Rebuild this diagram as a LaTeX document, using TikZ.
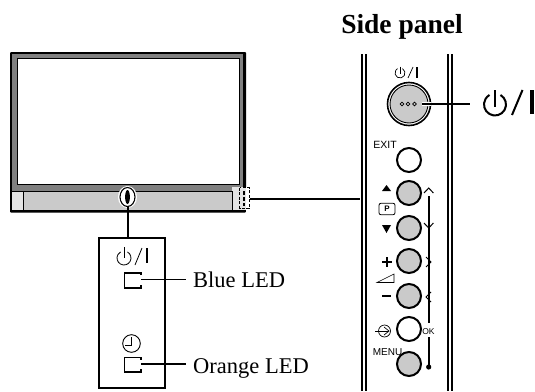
\documentclass[tikz,border=0pt]{standalone}
\usepackage{fontspec}
\setmainfont{Liberation Serif}
\newfontfamily\lab{Liberation Sans}
\definecolor{fr}{HTML}{808080}
\definecolor{bt}{HTML}{CACACA}
\definecolor{lt}{HTML}{E4E4E4}
\tikzset{x=1pt,y=-1pt,
 btn/.style={circle,draw=black,line width=2pt,fill=bt,minimum size=24pt,inner sep=0pt},
 wbtn/.style={btn,fill=white},
 serif/.style={inner sep=0pt,font=\fontsize{22.5}{24}\selectfont,anchor=base west},
 small/.style={inner sep=0pt,font=\lab\fontsize{10.5}{12}\selectfont},
 ledl/.style={line width=1.6pt},
 leader/.style={line width=1.2pt},
}
\begin{document}
\begin{tikzpicture}
\useasboundingbox (0,0) rectangle (535,391);
% TV
\fill[black,rounded corners=1pt] (10,52) rectangle (246,212.5);
\fill[fr] (12,53.5) rectangle (243,191);
\fill[white] (17,58) rectangle (239,184);
\draw[line width=1pt] (17,58) rectangle (239,184);
\fill[bt] (12,190.5) rectangle (244,210);
\fill[lt] (12,190.5) rectangle (23,210);
\fill[lt] (232,187) rectangle (250,210);
\fill[white] (246,187) rectangle (250,212);
\draw[line width=.6pt] (23,191) -- (23,210) (232,191) -- (232,210) (12,191) -- (232,191);
% LED marker
\coordinate (mark) at (127.5,197);
\fill[white] (mark) ellipse[x radius=9.5,y radius=11];
\draw[line width=1.1pt] (mark) ellipse[x radius=7.5,y radius=9.5];
\fill[black] (mark) ellipse[x radius=2.4,y radius=7];
\coordinate (markb) at (128,206.5);
% dashed side marker
\coordinate (sidem) at (250,199);
\draw[line width=1pt,dash pattern=on 3pt off 1.5pt] (239.5,187.5) rectangle (249,208);
\draw[line width=1.2pt,dash pattern=on 4pt off 2pt] (244,191) -- (244,206);
% LED box
\node[draw,line width=1.1pt,minimum width=66pt,minimum height=150pt,inner sep=0pt] (box) at (132,313) {};
\draw[leader] (markb) -- (128,238);
% LED box power symbol
\draw[line width=.8pt] (124,258) ++(-60:7) arc[start angle=-60,end angle=240,radius=7];
\draw[line width=.8pt] (124,247) -- (124,258);
\draw[line width=.8pt] (135,265) -- (142,248);
\draw[line width=1.4pt] (147,248) -- (147,263);
% clock
\draw[line width=.9pt] (131.5,343.5) circle[radius=8.8];
\draw[line width=.9pt] (131.5,337) -- (131.5,345) -- (125,345);
% LEDs
\coordinate (l1) at (141,279.5);
\coordinate (l2) at (141,364);
\draw[ledl] (141,275) -- (141,273) -- (124.5,273) -- (124.5,288) -- (141,288) -- (141,285);
\draw[ledl] (141,359.5) -- (141,357.5) -- (124.5,357.5) -- (124.5,372) -- (141,372) -- (141,369);
\node[serif] (bl) at (193,287) {Blue LED};
\node[serif] (ol) at (193,373) {Orange LED};
\draw[leader] (l1) -- (186,279.5);
\draw[leader] (l2) -- (186,364);
% Side panel
\node[inner sep=0pt,anchor=base,font=\bfseries\fontsize{27.5}{30}\selectfont] (title) at (402,33) {Side panel};
\draw[line width=1.1pt] (362,54) -- (362,391) (366,54) -- (366,391) (448,54) -- (448,391) (452,54) -- (452,391);
% connector TV to panel
\coordinate (pl) at (360,199);
\draw[leader] (sidem) -- (pl);
% power button
\node[circle,draw,line width=1.6pt,fill=white,minimum size=43pt,inner sep=0pt] (pb) at (409,104) {};
\node[circle,draw,line width=.9pt,fill=bt,minimum size=38pt,inner sep=0pt] at (409,104) {};
\foreach \xx in {402,408,414.5} \draw[line width=.7pt] (\xx,104) circle[radius=1.9];
\coordinate (pe) at (422,104);
\coordinate (pr) at (470,104);
\draw[line width=3.5pt,white] (pe) -- (pb.east);
\draw[leader] (pe) -- (pr);
% symbol above
\draw[line width=.7pt] (400,73) ++(-60:5) arc[start angle=-60,end angle=240,radius=5];
\draw[line width=.7pt] (400,66.5) -- (400,74);
\draw[line width=.7pt] (408,78) -- (413,67);
\draw[line width=1.4pt] (417,67) -- (417,78);
% big symbol
\draw[line width=2pt] (495,104.5) ++(-60:11) arc[start angle=-60,end angle=240,radius=11];
\draw[line width=2pt] (495,90) -- (495,107);
\draw[line width=2pt] (512,115) -- (522.5,90);
\draw[line width=3.2pt] (532,90) -- (532,113.5);
% buttons
\node[wbtn] (exit) at (409,160) {};
\node[btn] (b1) at (409,193) {};
\node[btn] (b2) at (409,228) {};
\node[btn] (b3) at (409,261) {};
\node[btn] (b4) at (409,296) {};
\node[wbtn] (b5) at (409,329) {};
\node[btn] (b6) at (409,364) {};
% labels
\node[small] (exl) at (385,145) {EXIT};
\node[small,font=\lab\fontsize{8.5}{10}\selectfont] (okl) at (428.5,332) {OK};
\node[small,font=\lab\fontsize{10}{12}\selectfont] (mn) at (387.5,352) {MENU};
\fill (382,191) -- (391,191) -- (386.5,185) -- cycle;
\fill (382,225) -- (391,225) -- (386.5,233) -- cycle;
\node[draw,rounded corners=2pt,line width=.8pt,minimum width=16pt,minimum height=11.5pt,inner sep=0pt,font=\lab\bfseries\fontsize{8}{9}\selectfont] (p) at (387,209) {P};
\draw[line width=1.4pt] (382,262) -- (392,262) (387,257) -- (387,267);
\draw[line width=1.6pt] (382,296) -- (391,296);
\draw[line width=.6pt] (394,274) -- (377,282.5) -- (394,282.5) -- cycle;
% input symbol
\draw[line width=.7pt] (384.5,331) circle[radius=6];
\draw[line width=.7pt] (375,331) -- (388,331);
\draw[line width=.7pt] (384,327) -- (389,331) -- (384,335);
% right line
\coordinate (t0) at (428.7,196);
\coordinate (t1) at (428.7,323);
\coordinate (t2) at (428.7,337);
\coordinate (t3) at (428.7,367);
\draw[line width=2pt] (t0) -- (t1) (t2) -- (t3);
\fill (t3) circle[radius=2.6];
\draw[line width=1pt] (424,193) -- (428.7,188) -- (433.4,193);
\draw[line width=1pt] (424,223) -- (428.7,228) -- (433.4,223);
\draw[line width=1pt] (426,257) -- (431,262) -- (426,267);
\draw[line width=1pt] (431,292) -- (426,297) -- (431,302);
\end{tikzpicture}
\end{document}
